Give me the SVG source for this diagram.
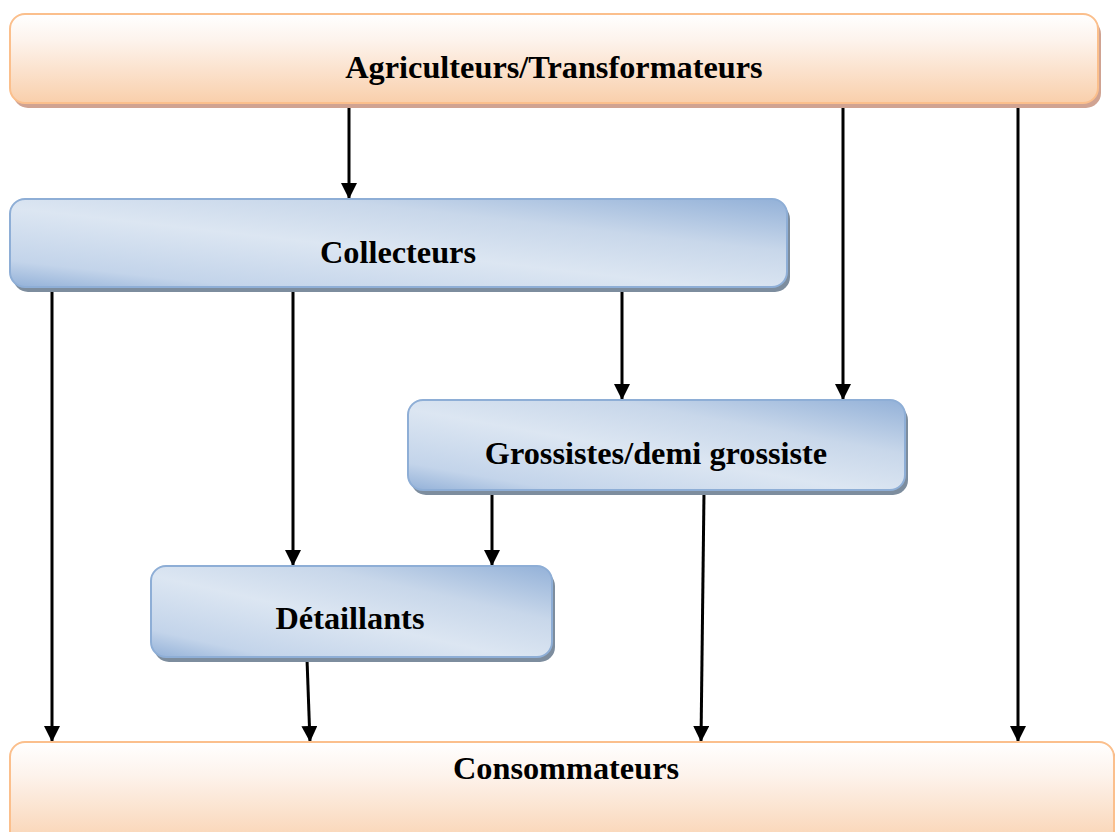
<svg xmlns="http://www.w3.org/2000/svg" width="1115" height="832" viewBox="0 0 1115 832">
<style>
.lbl{font-family:"Liberation Serif","Times New Roman",serif;font-weight:bold;font-size:32.3px;fill:#000;text-anchor:middle}
.or{fill:url(#gOr);stroke:#fbbf8c;stroke-width:2}
.orsh{fill:#d0a392}
.bl{fill:url(#gBl);stroke:#8eaed6;stroke-width:2}
.blsh{fill:#7d8d9e}
.con{stroke:#000;stroke-width:3;fill:none;marker-end:url(#ah)}
</style>
<defs>
<linearGradient id="gOr" x1="0" y1="0" x2="0" y2="1">
<stop offset="0" stop-color="#ffffff"/>
<stop offset="0.3" stop-color="#fdf3ec"/>
<stop offset="1" stop-color="#f9cfab"/>
</linearGradient>
<linearGradient id="gBl" x1="0" y1="1" x2="1" y2="0">
<stop offset="0" stop-color="#93b1d8"/>
<stop offset="0.15" stop-color="#c3d4ea"/>
<stop offset="0.45" stop-color="#dce6f2"/>
<stop offset="0.7" stop-color="#c8d7ea"/>
<stop offset="1" stop-color="#93b1d8"/>
</linearGradient>
<marker id="ah" viewBox="0 0 16 16" refX="16" refY="8" markerWidth="16" markerHeight="16" markerUnits="userSpaceOnUse" orient="auto">
<path d="M0,0 L16,8 L0,16 Z" fill="#000"/>
</marker>
</defs>
<g id="connectors">
<line class="con" x1="349" y1="104" x2="349" y2="199"/>
<line class="con" x1="843" y1="104" x2="843" y2="400"/>
<line class="con" x1="1018" y1="104" x2="1018" y2="742"/>
<line class="con" x1="52" y1="290" x2="52" y2="742"/>
<line class="con" x1="293" y1="290" x2="293" y2="566"/>
<line class="con" x1="622" y1="290" x2="622" y2="400"/>
<line class="con" x1="492" y1="492" x2="492" y2="566"/>
<line class="con" x1="704" y1="492" x2="701" y2="742"/>
<line class="con" x1="307" y1="659" x2="310" y2="742"/>
</g>
<g id="agriculteurs">
<rect class="orsh" x="13" y="19" width="1088" height="89" rx="15"/>
<rect class="or" x="10" y="14" width="1088" height="89" rx="15"/>
<text class="lbl" x="554" y="78">Agriculteurs/Transformateurs</text>
</g>
<g id="collecteurs">
<rect class="blsh" x="13" y="204" width="777" height="88" rx="15"/>
<rect class="bl" x="10" y="199" width="777" height="88" rx="15"/>
<text class="lbl" x="398" y="263">Collecteurs</text>
</g>
<g id="grossistes">
<rect class="blsh" x="411" y="405" width="497" height="90" rx="15"/>
<rect class="bl" x="408" y="400" width="497" height="90" rx="15"/>
<text class="lbl" x="656" y="464">Grossistes/demi grossiste</text>
</g>
<g id="detaillants">
<rect class="blsh" x="154" y="571" width="401" height="91" rx="15"/>
<rect class="bl" x="151" y="566" width="401" height="91" rx="15"/>
<text class="lbl" x="350" y="629">Détaillants</text>
</g>
<g id="consommateurs">
<rect class="orsh" x="13" y="747" width="1104" height="110" rx="15"/>
<rect class="or" x="10" y="742" width="1104" height="110" rx="15"/>
<text class="lbl" x="566" y="779">Consommateurs</text>
</g>
</svg>
